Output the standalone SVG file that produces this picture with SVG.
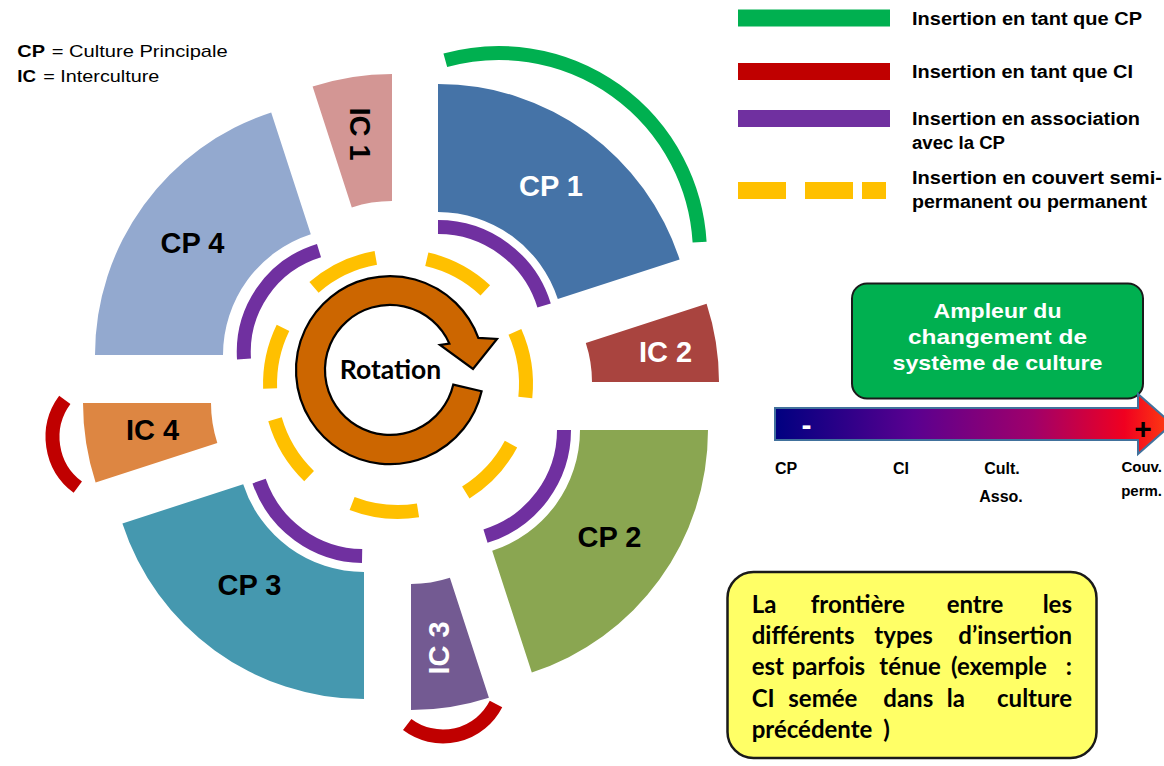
<svg xmlns="http://www.w3.org/2000/svg" width="1164" height="766" viewBox="0 0 1164 766">
<defs>
<style>
.lbl{font-family:"Liberation Sans",Arial,sans-serif;font-weight:bold;}
.reg{font-family:"Liberation Sans",Arial,sans-serif;}
.cal{font-family:Lato,"Liberation Sans",sans-serif;font-weight:bold;}
.arc{fill:none;stroke-linecap:butt;}
.purple{stroke:#7030A0;stroke-width:14;}
.yellow{stroke:#FFC000;stroke-width:14;}
.red{stroke:#C00000;stroke-width:14;}
.green{stroke:#00B050;stroke-width:14;}
.big{font-size:29px;text-anchor:middle;}
.leg{font-size:17.5px;}
</style>
<linearGradient id="grad" x1="775" y1="0" x2="1172" y2="0" gradientUnits="userSpaceOnUse">
<stop offset="0" stop-color="#000080"/>
<stop offset="0.35" stop-color="#5A0090"/>
<stop offset="0.65" stop-color="#A0006A"/>
<stop offset="0.88" stop-color="#F00020"/>
<stop offset="1" stop-color="#FF4010"/>
</linearGradient>
</defs>
<rect width="1164" height="766" fill="#FFFFFF"/>

<g id="definitions">
<text class="lbl" x="17.3" y="56.5" font-size="17" textLength="27.7" lengthAdjust="spacingAndGlyphs">CP</text>
<text class="reg" x="51.7" y="56.5" font-size="17" textLength="176" lengthAdjust="spacingAndGlyphs">= Culture Principale</text>
<text class="lbl" x="17.3" y="81.5" font-size="17" textLength="18.7" lengthAdjust="spacingAndGlyphs">IC</text>
<text class="reg" x="43.3" y="81.5" font-size="17" textLength="116" lengthAdjust="spacingAndGlyphs">= Interculture</text>
</g>

<g id="cp1"><path d="M438,84 A254,254 0 0 1 679.6,259.5 L557.8,299.1 A126,126 0 0 0 438,212 Z" fill="#4573A7"/><text class="lbl big" x="551" y="196" fill="#FFFFFF">CP 1</text></g>
<g id="ic2"><path d="M706.6,303.8 A253,253 0 0 1 719,382 L592,382 A126,126 0 0 0 585.8,343.1 Z" fill="#A9443F"/><text class="lbl big" x="665.5" y="362" fill="#FFFFFF">IC 2</text></g>
<g id="cp2"><path d="M708,430 A255,255 0 0 1 531.8,672.5 L492.2,550.8 A127,127 0 0 0 580,430 Z" fill="#8AA651"/><text class="lbl big" x="609.5" y="547" fill="#000000">CP 2</text></g>
<g id="ic3"><path d="M488.9,697.7 A252,252 0 0 1 411,710 L411,584 A126,126 0 0 0 449.9,577.8 Z" fill="#735A92"/><text class="lbl big" transform="translate(438.5,648) rotate(-90)" x="0" y="10" fill="#FFFFFF">IC 3</text></g>
<g id="cp3"><path d="M364,699 A254,254 0 0 1 122.4,523.5 L243.2,484.2 A127,127 0 0 0 364,572 Z" fill="#4598AF"/><text class="lbl big" x="249.5" y="595" fill="#000000">CP 3</text></g>
<g id="ic4"><path d="M95.6,482.4 A257,257 0 0 1 83,403 L211,403 A129,129 0 0 0 217.3,442.9 Z" fill="#DD8642"/><text class="lbl big" x="152.5" y="440" fill="#000000">IC 4</text></g>
<g id="cp4"><path d="M95,355 A255,255 0 0 1 271.2,112.5 L310.8,234.2 A127,127 0 0 0 223,355 Z" fill="#93A9CF"/><text class="lbl big" x="192.5" y="253" fill="#000000">CP 4</text></g>
<g id="ic1"><path d="M312.6,86.6 A257,257 0 0 1 392,74 L392,201 A130,130 0 0 0 351.8,207.4 Z" fill="#D39694"/><text class="lbl big" transform="translate(360,134) rotate(90)" x="0" y="10" fill="#000000">IC 1</text></g>

<g id="connectors">
<path class="arc green" d="M445.3,60.3 A201,201 0 0 1 699.6,242.1"/>
<path class="arc red" d="M77.8,487.2 A62.5,62.5 0 0 1 64.8,399.8"/>
<path class="arc red" d="M496,704 A59.5,59.5 0 0 1 407.2,724.5"/>
<path class="arc purple" d="M438,227 A111,111 0 0 1 544.1,305.5"/>
<path class="arc purple" d="M564,430 A111,111 0 0 1 485.5,536.1"/>
<path class="arc purple" d="M362.1,556 A111,111 0 0 1 259.1,481.1"/>
<path class="arc purple" d="M244,359 A106,106 0 0 1 319,250.6"/>
<path class="arc yellow" d="M314,287.4 A128,128 0 0 1 375.8,257.9"/>
<path class="arc yellow" d="M426.8,259.3 A128,128 0 0 1 485.3,290.4"/>
<path class="arc yellow" d="M514.9,331.9 A128,128 0 0 1 525.3,397.4"/>
<path class="arc yellow" d="M511,444.1 A128,128 0 0 1 465.8,492.5"/>
<path class="arc yellow" d="M418,510.4 A128,128 0 0 1 352.1,503.5"/>
<path class="arc yellow" d="M309.1,476.1 A128,128 0 0 1 275,419.3"/>
<path class="arc yellow" d="M270.1,388.5 A128,128 0 0 1 283,327.9"/>
</g>

<g id="rotation">
<path d="M481.6,391.2 A94,94 0 1 1 478.3,337.9 L497,339 L473,369 L440,345 L449.4,343.6 A65,65 0 1 0 453.3,384.6 Z" fill="#CC6600" stroke="#000000" stroke-width="2.2" stroke-linejoin="miter"/>
<text class="cal" x="390.5" y="379" font-size="26.5" text-anchor="middle" fill="#000000">Rotation</text>
</g>

<g id="legend">
<rect x="738" y="9.5" width="152" height="17" fill="#00B050"/>
<rect x="738" y="63" width="152" height="17" fill="#C00000"/>
<rect x="738" y="110" width="152" height="17" fill="#7030A0"/>
<rect x="738" y="182" width="48" height="17" fill="#FFC000"/>
<rect x="805" y="182" width="48" height="17" fill="#FFC000"/>
<rect x="862" y="182" width="24" height="17" fill="#FFC000"/>
<text class="lbl leg" x="912" y="24.5" textLength="230" lengthAdjust="spacingAndGlyphs">Insertion en tant que CP</text>
<text class="lbl leg" x="912" y="78" textLength="221" lengthAdjust="spacingAndGlyphs">Insertion en tant que CI</text>
<text class="lbl leg" x="912" y="125" textLength="228" lengthAdjust="spacingAndGlyphs">Insertion en association</text>
<text class="lbl leg" x="912" y="149" textLength="93" lengthAdjust="spacingAndGlyphs">avec la CP</text>
<text class="lbl leg" x="912" y="184" textLength="250" lengthAdjust="spacingAndGlyphs">Insertion en couvert semi-</text>
<text class="lbl leg" x="912" y="208" textLength="235" lengthAdjust="spacingAndGlyphs">permanent ou permanent</text>
</g>

<g id="ampleur">
<rect x="852" y="283.5" width="291" height="115" rx="15" ry="15" fill="#00B050" stroke="#1A1A1A" stroke-width="2"/>
<text class="lbl" x="997.5" y="318" font-size="20.5" text-anchor="middle" fill="#FFFFFF" textLength="128" lengthAdjust="spacingAndGlyphs">Ampleur du</text>
<text class="lbl" x="997.5" y="344" font-size="20.5" text-anchor="middle" fill="#FFFFFF" textLength="179" lengthAdjust="spacingAndGlyphs">changement de</text>
<text class="lbl" x="997.5" y="370" font-size="20.5" text-anchor="middle" fill="#FFFFFF" textLength="210" lengthAdjust="spacingAndGlyphs">système de culture</text>
</g>

<g id="scale">
<path d="M775,408 H1138 V394 L1172,424 L1138,454 V440 H775 Z" fill="url(#grad)" stroke="#41719C" stroke-width="2"/>
<text class="lbl" x="806.5" y="435" font-size="30" text-anchor="middle" fill="#FFFFFF">-</text>
<text class="lbl" x="1143" y="438.5" font-size="30" text-anchor="middle" fill="#000000">+</text>
<text class="lbl" x="775" y="474" font-size="16">CP</text>
<text class="lbl" x="893" y="474" font-size="16">CI</text>
<text class="lbl" x="1002" y="474" font-size="16" text-anchor="middle">Cult.</text>
<text class="lbl" x="1001" y="502" font-size="16" text-anchor="middle">Asso.</text>
<text class="lbl" x="1162" y="472" font-size="15" text-anchor="end">Couv.</text>
<text class="lbl" x="1162" y="496" font-size="15" text-anchor="end">perm.</text>
</g>

<g id="note">
<rect x="727.5" y="572" width="369" height="186" rx="26" ry="26" fill="#FFFF66" stroke="#1A1A1A" stroke-width="2.5"/>
<g class="cal" font-size="24" fill="#000000">
<text x="751.7" y="612.5">La</text>
<text x="810.7" y="612.5">frontière</text>
<text x="946.7" y="612.5">entre</text>
<text x="1072" y="612.5" text-anchor="end">les</text>
<text x="751.7" y="643.5">différents</text>
<text x="874.3" y="643.5">types</text>
<text x="1072" y="643.5" text-anchor="end">d’insertion</text>
<text x="751.7" y="675">est</text>
<text x="791.7" y="675">parfois</text>
<text x="879.3" y="675">ténue</text>
<text x="951" y="675">(exemple</text>
<text x="1072" y="675" text-anchor="end">:</text>
<text x="751.7" y="706.5">CI</text>
<text x="788.3" y="706.5">semée</text>
<text x="883.3" y="706.5">dans</text>
<text x="946.7" y="706.5">la</text>
<text x="1072" y="706.5" text-anchor="end">culture</text>
<text x="751.7" y="738">précédente</text>
<text x="883.3" y="738">)</text>
</g>
</g>
</svg>
